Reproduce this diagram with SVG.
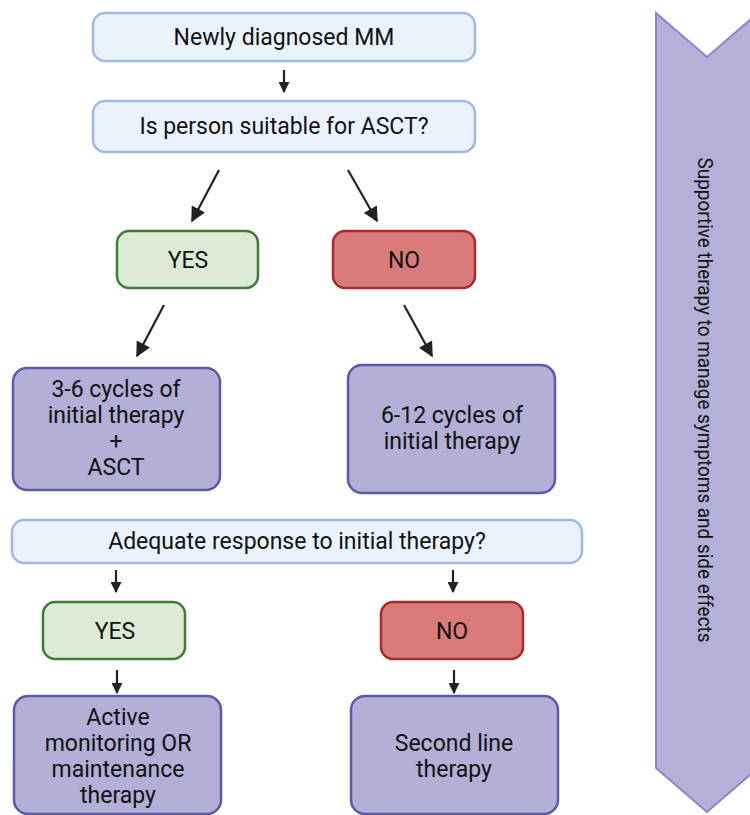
<svg xmlns="http://www.w3.org/2000/svg" width="750" height="815" viewBox="0 0 750 815">
  <defs>
    <marker id="ah" viewBox="0 0 10 10" refX="9" refY="5" markerUnits="userSpaceOnUse" markerWidth="11" markerHeight="11" orient="auto">
      <path d="M0,0 L10,5 L0,10 z" fill="#222"/>
    </marker>
    <marker id="ahL" viewBox="0 0 10 10" refX="9" refY="5" markerUnits="userSpaceOnUse" markerWidth="16" markerHeight="15" orient="auto">
      <path d="M0,0 L10,5 L0,10 z" fill="#222"/>
    </marker>
  </defs>
  <style>
    .q { fill: #EAF3FC; stroke: #9EB9E3; stroke-width: 2.5; }
    .yes { fill: #DDEBD6; stroke: #3F7C38; stroke-width: 2.5; }
    .no { fill: #D97B7B; stroke: #A62B2B; stroke-width: 2.5; }
    .act { fill: #B3AFD6; stroke: #5B5BA6; stroke-width: 2.5; }
    .chev { fill: #B4B0D7; stroke: #8A86CA; stroke-width: 2; }
    text { font-family: Roboto, "Liberation Sans", sans-serif; font-size: 23px; fill: #111; text-anchor: middle; }
    .side { font-size: 20px; }
    .c { stroke: #222; stroke-width: 2.2; fill: none; }
  </style>

  <g id="supportive">
    <polygon class="chev" points="656,13 707,57 758,13 758,768 707,812 656,768"/>
    <text class="side" transform="translate(698,400) rotate(90)" x="0" y="0" textLength="485" lengthAdjust="spacingAndGlyphs">Supportive therapy to manage symptoms and side effects</text>
  </g>

  <g id="newly">
    <rect class="q" x="93" y="13" width="382" height="48" rx="12"/>
    <text x="284" y="45">Newly diagnosed MM</text>
  </g>
  <g id="suitable">
    <rect class="q" x="93" y="101" width="382" height="51" rx="12"/>
    <text x="284" y="134">Is person suitable for ASCT?</text>
  </g>
  <g id="yes1">
    <rect class="yes" x="117" y="231" width="141" height="57" rx="12"/>
    <text x="188" y="268">YES</text>
  </g>
  <g id="no1">
    <rect class="no" x="333" y="231" width="142" height="57" rx="12"/>
    <text x="404" y="268">NO</text>
  </g>
  <g id="cycles36">
    <rect class="act" x="13" y="368" width="207" height="122" rx="14"/>
    <text x="116" y="397">3-6 cycles of</text>
    <text x="116" y="423">initial therapy</text>
    <text x="116" y="449">+</text>
    <text x="116" y="475">ASCT</text>
  </g>
  <g id="cycles612">
    <rect class="act" x="348" y="365" width="207" height="128" rx="14"/>
    <text x="452" y="423">6-12 cycles of</text>
    <text x="452" y="449">initial therapy</text>
  </g>
  <g id="adequate">
    <rect class="q" x="12" y="520" width="570" height="43" rx="12"/>
    <text x="297" y="549">Adequate response to initial therapy?</text>
  </g>
  <g id="yes2">
    <rect class="yes" x="43" y="602" width="142" height="57" rx="12"/>
    <text x="115" y="639">YES</text>
  </g>
  <g id="no2">
    <rect class="no" x="381" y="602" width="142" height="57" rx="12"/>
    <text x="452" y="639">NO</text>
  </g>
  <g id="active">
    <rect class="act" x="14" y="696" width="207" height="118" rx="14"/>
    <text x="118" y="725">Active</text>
    <text x="118" y="751">monitoring OR</text>
    <text x="118" y="777">maintenance</text>
    <text x="118" y="803">therapy</text>
  </g>
  <g id="second">
    <rect class="act" x="351" y="696" width="207" height="118" rx="14"/>
    <text x="454" y="751">Second line</text>
    <text x="454" y="777">therapy</text>
  </g>

  <g id="connectors">
    <line class="c" x1="284" y1="70" x2="284" y2="92" marker-end="url(#ah)"/>
    <line class="c" x1="219" y1="170" x2="192" y2="221" marker-end="url(#ahL)"/>
    <line class="c" x1="348" y1="170" x2="377" y2="221" marker-end="url(#ahL)"/>
    <line class="c" x1="164" y1="305" x2="137" y2="356" marker-end="url(#ahL)"/>
    <line class="c" x1="404" y1="305" x2="432" y2="356" marker-end="url(#ahL)"/>
    <line class="c" x1="116" y1="570" x2="116" y2="592" marker-end="url(#ah)"/>
    <line class="c" x1="453" y1="570" x2="453" y2="592" marker-end="url(#ah)"/>
    <line class="c" x1="117" y1="670" x2="117" y2="693" marker-end="url(#ah)"/>
    <line class="c" x1="454" y1="670" x2="454" y2="693" marker-end="url(#ah)"/>
  </g>
</svg>
